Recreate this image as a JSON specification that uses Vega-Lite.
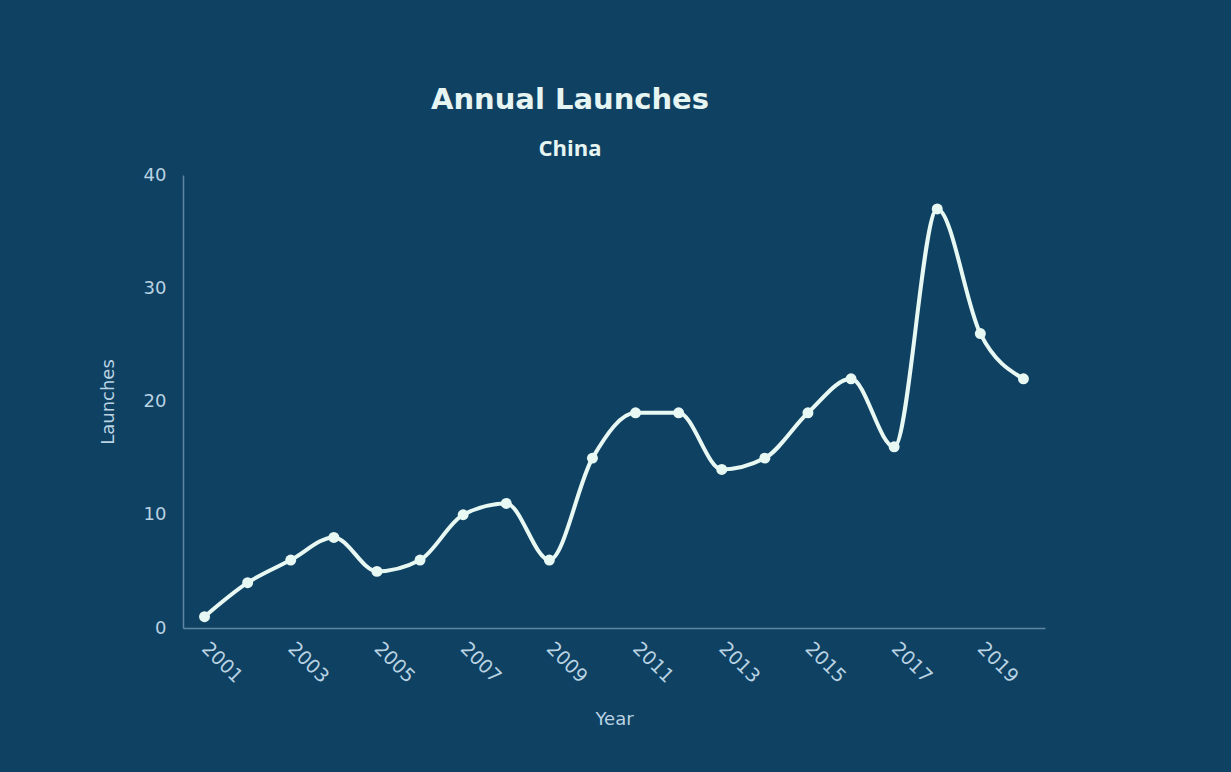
{
  "$schema": "https://vega.github.io/schema/vega-lite/v6.json",
  "width": 862,
  "height": 453,
  "autosize": {"type": "none"},
  "padding": {"left": 183, "top": 175, "right": 186, "bottom": 144},
  "background": "#0f4163",
  "config": {
    "view": {"stroke": null},
    "font": "DejaVu Sans"
  },
  "title": {
    "text": "Annual Launches",
    "subtitle": "China",
    "anchor": "middle",
    "dx": -44,
    "offset": 6,
    "fontSize": 29,
    "fontWeight": "bold",
    "color": "#e6f4f2",
    "subtitleFontSize": 22,
    "subtitleFontWeight": "bold",
    "subtitleColor": "#e6f4f2",
    "subtitlePadding": 24,
    "font": "DejaVu Sans",
    "subtitleFont": "Open Sans"
  },
  "data": {
    "values": [
      {"Year": 2001, "Launches": 1},
      {"Year": 2002, "Launches": 4},
      {"Year": 2003, "Launches": 6},
      {"Year": 2004, "Launches": 8},
      {"Year": 2005, "Launches": 5},
      {"Year": 2006, "Launches": 6},
      {"Year": 2007, "Launches": 10},
      {"Year": 2008, "Launches": 11},
      {"Year": 2009, "Launches": 6},
      {"Year": 2010, "Launches": 15},
      {"Year": 2011, "Launches": 19},
      {"Year": 2012, "Launches": 19},
      {"Year": 2013, "Launches": 14},
      {"Year": 2014, "Launches": 15},
      {"Year": 2015, "Launches": 19},
      {"Year": 2016, "Launches": 22},
      {"Year": 2017, "Launches": 16},
      {"Year": 2018, "Launches": 37},
      {"Year": 2019, "Launches": 26},
      {"Year": 2020, "Launches": 22}
    ]
  },
  "encoding": {
    "x": {
      "field": "Year",
      "type": "quantitative",
      "scale": {"domain": [2000.5, 2020.5], "nice": false, "zero": false},
      "axis": {
        "values": [2001, 2003, 2005, 2007, 2009, 2011, 2013, 2015, 2017, 2019],
        "format": "d",
        "labelAngle": 45,
        "labelAlign": "left",
        "labelBaseline": "middle",
        "labelPadding": 17,
        "labelFontSize": 19,
        "labelColor": "#b9d3e2",
        "ticks": false,
        "grid": false,
        "domainColor": "#5f86a3",
        "domainWidth": 1.5,
        "title": "Year",
        "titleFontSize": 18,
        "titleFontWeight": "normal",
        "titleColor": "#b9d3e2",
        "titlePadding": 24
      }
    },
    "y": {
      "field": "Launches",
      "type": "quantitative",
      "scale": {"domain": [0, 40], "nice": false},
      "axis": {
        "values": [0, 10, 20, 30, 40],
        "labelFontSize": 18,
        "labelColor": "#b9d3e2",
        "labelPadding": 17,
        "ticks": false,
        "grid": false,
        "domainColor": "#5f86a3",
        "domainWidth": 1.5,
        "title": "Launches",
        "titleFontSize": 18,
        "titleFontWeight": "normal",
        "titleColor": "#b9d3e2",
        "titlePadding": 26
      }
    }
  },
  "layer": [
    {
      "mark": {"type": "line", "interpolate": "monotone", "color": "#e8f8f2", "strokeWidth": 4}
    },
    {
      "mark": {"type": "point", "filled": true, "color": "#e8f8f2", "size": 120, "opacity": 1}
    }
  ]
}
